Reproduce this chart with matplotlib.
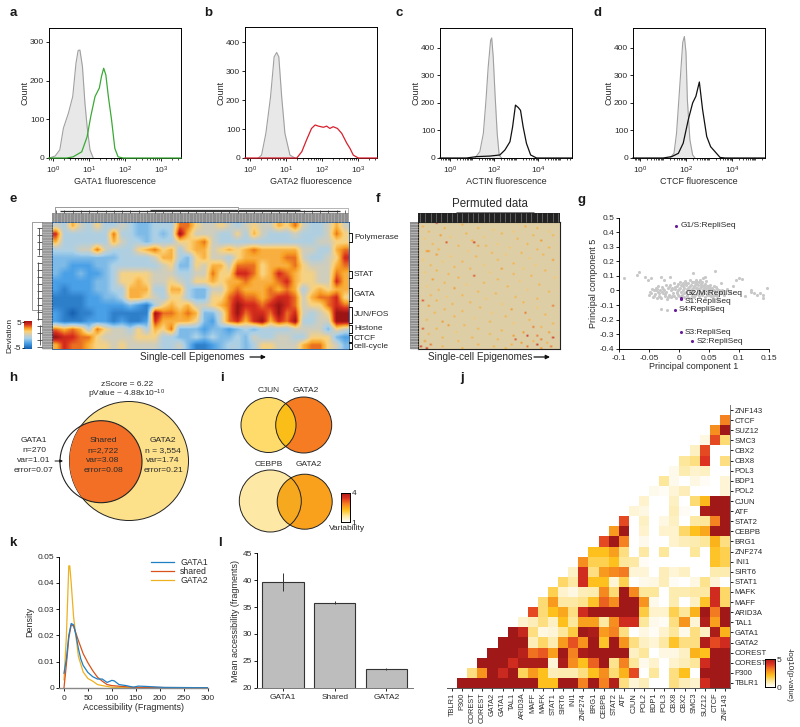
import numpy as np
import matplotlib
matplotlib.use('Agg')
import matplotlib.pyplot as plt
from matplotlib.colors import LinearSegmentedColormap
from matplotlib.patches import Circle, Rectangle
from matplotlib.ticker import FixedLocator, NullFormatter

plt.rcParams['font.family'] = ['Liberation Sans', 'DejaVu Sans']
plt.rcParams['mathtext.default'] = 'regular'
plt.rcParams['font.size'] = 6
plt.rcParams['text.color'] = '#2a2a2a'
plt.rcParams['axes.labelcolor'] = '#2a2a2a'
plt.rcParams['xtick.labelcolor'] = '#2a2a2a'
plt.rcParams['ytick.labelcolor'] = '#2a2a2a'
plt.rcParams['axes.linewidth'] = 0.7
plt.rcParams['xtick.major.width'] = 0.6
plt.rcParams['ytick.major.width'] = 0.6
plt.rcParams['xtick.minor.width'] = 0.5
plt.rcParams['xtick.major.size'] = 2.5
plt.rcParams['ytick.major.size'] = 2
plt.rcParams['xtick.minor.size'] = 1.5
plt.rcParams['xtick.major.pad'] = 2
plt.rcParams['ytick.major.pad'] = 1.5

# ---- flow cytometry histograms (log10 fluorescence, count)
a_iso_x = [-0.10, 0.06, 0.19, 0.29, 0.43, 0.55, 0.64, 0.70, 0.75, 0.82, 0.89, 0.95, 1.03, 1.12]
a_iso_y = [0, 5, 21, 77, 116, 159, 245, 278, 279, 236, 141, 81, 21, 0]
a_stain_x = [-0.11, 0.38, 0.56, 0.80, 0.95, 1.05, 1.17, 1.29, 1.35, 1.41, 1.47, 1.54, 1.63, 1.72, 1.81, 1.95, 3.56]
a_stain_y = [0, 0, 3, 16, 55, 107, 159, 181, 211, 232, 215, 159, 98, 25, 3, 0, 0]
b_iso_x = [0.23, 0.32, 0.44, 0.57, 0.67, 0.74, 0.80, 0.88, 0.97, 1.11, 1.25]
b_iso_y = [0, 10, 85, 211, 349, 364, 349, 211, 85, 10, 0]
b_stain_x = [-0.14, 1.30, 1.44, 1.57, 1.71, 1.81, 1.90, 2.04, 2.13, 2.22, 2.31, 2.43, 2.55, 2.69, 2.78, 2.87, 3.01, 3.53]
b_stain_y = [0, 0, 22, 62, 102, 114, 110, 106, 110, 102, 108, 102, 85, 51, 33, 10, 0, 0]
c_iso_x = [1.14, 1.36, 1.52, 1.64, 1.74, 1.85, 1.90, 1.97, 2.05, 2.15, 2.24, 2.35]
c_iso_y = [0, 23, 89, 210, 330, 427, 436, 366, 234, 89, 11, 0]
c_stain_x = [-0.45, 0.76, 1.21, 1.82, 2.27, 2.50, 2.73, 2.85, 2.98, 3.11, 3.21, 3.33, 3.48, 3.67, 3.94, 5.55]
c_stain_y = [0, 0, 5, 7, 11, 29, 59, 113, 192, 183, 173, 113, 53, 11, 0, 0]
d_iso_x = [1.30, 1.48, 1.59, 1.74, 1.86, 1.93, 2.00, 2.06, 2.17, 2.29, 2.39]
d_iso_y = [0, 17, 90, 273, 420, 441, 383, 212, 66, 11, 0]
d_stain_x = [-0.30, 1.01, 1.38, 1.67, 1.88, 2.10, 2.29, 2.43, 2.58, 2.72, 2.90, 3.07, 3.26, 3.48, 3.70, 5.43]
d_stain_y = [0, 0, 5, 17, 54, 139, 200, 224, 276, 176, 78, 41, 23, 2, 0, 0]

deviation_rows = [
    [0, -1, 2, 0, -1, 1, -1, -1, 0, -1, -2, -2, -1, -1, -1, 3, 3, 1, 0, 0, 1, 0, -1, 0, 1, 0, 0, 2, 1, 3, 0, -1, -1, 0, 2, 0],
    [4, -1, -1, -1, -1, -1, -1, 3, -1, -1, -2, -2, -1, -2, -1, 5, 2, 0, 0, 0, -1, -1, 1, -1, 2, 0, -1, -1, -1, 0, -1, -1, -1, 0, 3, 1],
    [2, -1, -1, -1, -1, -1, -1, 2, 0, -1, -1, -2, -1, -1, -1, 1, 1, 2, 3, 0, -1, -1, -1, -1, -1, -1, -1, -1, -1, -1, -1, -1, 0, 0, 1, 1],
    [-1, -1, -1, 0, 0, 3, 0, -1, -1, -1, 1, 2, 3, 1, 2, -1, 1, 2, 2, 0, 1, 2, 1, 2, 3, 2, 2, 2, 2, 2, 0, 0, -1, -1, 2, 3],
    [-2, -2, -2, -2, -2, -2, -2, -2, -1, -1, -1, -1, 0, 2, 2, -1, -2, 1, 2, 0, 0, -1, 1, 2, 2, 2, 2, 2, 3, 3, 0, -1, -1, 0, 1, 4],
    [-2, -2, -3, -3, -3, -2, -2, -1, -1, -1, -1, -1, -1, 0, 1, -2, -2, 1, 0, 2, 2, 0, 3, 3, 3, 1, 2, 2, 2, 3, 1, 0, 0, 0, 2, 3],
    [-2, -3, -3, -2, -3, -3, -2, -1, 1, 1, 1, 1, 0, 0, 0, -1, -1, 0, 0, 3, 1, 1, 4, 4, 3, 1, 2, 4, 3, 2, 1, 1, 0, 0, 3, 2],
    [-3, -3, -3, -3, -3, -2, -2, -1, 1, 1, 2, 1, 0, 0, 1, 0, -1, 1, 1, 2, 1, 2, 2, 3, 2, 2, 2, 3, 4, 2, 1, 1, 0, 0, 4, 2],
    [-3, -4, -3, -3, -3, -2, -2, -1, -1, 2, 2, 2, -1, -1, 2, 2, -1, -2, -2, 0, 0, 2, 3, 2, 2, 2, 3, 2, 3, 2, -1, 1, 2, 1, 2, 2],
    [-4, -4, -4, -4, -3, -3, -2, -2, -1, 2, 2, 1, 0, -1, 1, 1, -1, -2, -2, 1, 1, 3, 4, 3, 3, 2, 3, 4, 4, 3, 0, 2, 3, 3, 4, 1],
    [-4, -4, -4, -4, -3, -3, -3, -3, -3, -2, -3, -4, -1, 1, 2, 1, 2, 0, 0, 1, 2, 3, 5, 4, 4, 3, 4, 5, 4, 3, 0, 1, 1, 3, 4, 3],
    [-3, -4, -5, -4, -4, -3, -3, -4, -4, -4, -4, -4, 5, 3, 3, 2, 3, 2, -2, -2, 0, 3, 5, 3, 4, 4, 3, 5, 3, 4, 0, -1, 0, 1, 5, 5],
    [-3, -4, -4, -4, -3, -3, -3, -4, -3, -4, -4, -3, 4, 2, 2, 2, 2, 1, -2, -3, 0, 3, 4, 2, 4, 5, 2, 4, 3, 5, -1, -1, 0, 0, 5, 5],
    [3, 2, 3, 2, -1, 3, 1, 0, 0, -1, 1, -1, 2, 1, 3, -2, -2, -2, -3, -2, -2, -3, -2, -1, -2, -1, -1, -1, -1, 0, 0, 0, 0, -2, 1, 0],
    [5, 4, 4, 3, 3, 1, 0, 0, 0, 0, 1, 1, 1, -1, -1, -2, -2, -1, -2, -1, -2, -2, -1, -2, 0, -1, -1, 0, 0, -1, -1, 1, 1, 1, -2, -3],
    [2, 4, 3, 3, 2, 1, 1, 0, 1, 0, 0, 0, 0, -1, -1, 0, -2, -4, -4, -3, -2, -1, -1, -2, -1, 1, 1, 0, 0, 0, 2, 3, 3, 1, 0, -2],
]
tf_groups = ['Polymerase', 'STAT', 'GATA', 'JUN/FOS', 'Histone', 'CTCF', 'cell-cycle']

# ---- panel f, flecks on a 72x72 grid (row, col, deviation)
perm_flecks = [
    (0, 9, 4), (1, 22, 2), (2, 2, 2), (2, 54, 2), (3, 13, 2), (3, 30, 2), (3, 60, 2), (4, 38, 1.5), (5, 5, 2), (5, 48, 1.5), (5, 66, 1.5), (6, 24, 2),
    (6, 42, 2), (7, 11, 2.5), (7, 58, 2), (7, 68, 2), (8, 33, 1.5), (8, 16, 1.5), (9, 3, 1.5), (9, 50, 2), (10, 27, 2), (10, 62, 2.5), (11, 14, 3.5),
    (11, 28, 4), (12, 7, 2), (12, 40, 1.5), (12, 55, 2), (13, 20, 2), (13, 34, 2), (13, 30, 2.5), (14, 46, 1.5), (14, 66, 2), (15, 10, 2), (15, 60, 2),
    (16, 4, 2.5), (16, 5, 2.5), (16, 25, 1.5), (17, 37, 2), (17, 52, 2), (18, 9, 2.5), (18, 63, 2), (18, 44, 1.5), (19, 16, 1.5), (19, 29, 2), (20, 56, 1.5),
    (21, 2, 1.5), (21, 40, 2), (21, 68, 2.5), (22, 22, 2), (22, 12, 1.5), (23, 48, 2), (24, 33, 1.5), (24, 6, 2), (24, 59, 1.5), (25, 18, 2), (26, 26, 2),
    (26, 42, 2.5), (26, 53, 1.5), (27, 9, 2), (27, 64, 2), (28, 3, 1.5), (28, 36, 1.5), (29, 15, 2), (29, 48, 2), (30, 28, 3.5), (30, 57, 2), (31, 20, 2),
    (31, 69, 1.5), (32, 7, 2.5), (32, 40, 2), (33, 51, 1.5), (34, 13, 2), (34, 33, 2), (35, 61, 2), (35, 24, 1.5), (36, 4, 1.5), (36, 45, 2), (37, 18, 2.5),
    (38, 55, 1.5), (38, 10, 2), (39, 30, 2), (39, 66, 2), (40, 39, 2), (41, 6, 2), (41, 22, 2), (42, 49, 2), (42, 14, 1.5), (43, 60, 2), (43, 34, 1.5),
    (44, 2, 3.5), (44, 9, 2), (45, 26, 2), (45, 53, 2), (46, 17, 2), (46, 42, 1.5), (47, 68, 3), (47, 5, 2.5), (48, 31, 2), (48, 60, 1.5), (49, 13, 2),
    (49, 47, 2.5), (50, 22, 2), (51, 37, 1.5), (51, 54, 3), (51, 8, 2), (52, 64, 2), (53, 18, 2), (53, 44, 2), (54, 28, 1.5), (55, 4, 2), (55, 56, 2),
    (56, 12, 2.5), (56, 36, 2), (57, 68, 2), (57, 48, 1.5), (58, 15, 2.5), (58, 23, 2), (59, 58, 3), (59, 62, 2), (60, 2, 3.5), (60, 30, 2), (60, 9, 2),
    (61, 42, 2), (62, 66, 2.5), (62, 19, 1.5), (62, 53, 2.5), (63, 5, 2), (63, 36, 2), (64, 48, 2.5), (64, 55, 4), (64, 60, 3), (65, 12, 2), (65, 27, 2),
    (65, 68, 4), (66, 49, 3.5), (66, 62, 3), (66, 40, 2), (67, 3, 2.5), (67, 20, 2), (67, 58, 2), (68, 52, 2.5), (68, 65, 2), (69, 6, 3), (69, 30, 2),
    (69, 60, 4), (69, 47, 2), (70, 1, 4), (70, 12, 2), (70, 38, 2), (70, 55, 3), (70, 67, 3), (71, 4, 4), (71, 22, 2), (71, 44, 2), (71, 62, 2.5),
]

# ---- panel g, principal components
pc_points = [
    (-0.092, 0.085), (-0.07, 0.105), (-0.066, 0.125), (-0.057, 0.09), (-0.052, 0.075), (-0.047, 0.085), (-0.03, 0.09), (-0.025, 0.07),
    (-0.015, 0.095), (-0.035, 0.03), (0.023, 0.12), (0.044, 0.09), (0.06, 0.135), (0.04, 0.085), (0.045, 0.065), (0.035, 0.07), (0.105, 0.08),
    (0.1, 0.085), (0.095, 0.075), (0.09, 0.03), (0.12, -0.01), (0.12, 0.005), (0.125, -0.02), (0.13, -0.03), (0.135, -0.02), (0.14, -0.03),
    (0.14, -0.05), (0.146, 0.015), (0.11, -0.035), (0.085, -0.01), (0.08, 0.01), (0.075, -0.03), (-0.03, -0.13), (-0.02, -0.135), (0.02, -0.12),
    (0.035, -0.12), (0.055, -0.125), (0.07, 0.05), (0.065, -0.065), (-0.05, -0.03), (-0.048, -0.01), (-0.045, 0.01), (-0.044, -0.045), (-0.042, 0.0),
    (-0.04, -0.025), (-0.038, 0.02), (-0.037, -0.05), (-0.035, -0.01), (-0.033, -0.035), (-0.031, 0.005), (-0.03, -0.055), (-0.028, 0.025),
    (-0.027, -0.02), (-0.025, 0.0), (-0.024, -0.04), (-0.022, 0.035), (-0.021, -0.01), (-0.02, -0.06), (-0.018, 0.015), (-0.017, -0.03),
    (-0.015, 0.04), (-0.014, 0.0), (-0.013, -0.045), (-0.012, 0.02), (-0.01, -0.015), (-0.009, 0.05), (-0.008, -0.035), (-0.006, 0.01),
    (-0.005, -0.055), (-0.004, 0.03), (-0.003, -0.02), (-0.002, 0.045), (-0.001, 0.0), (0.0, -0.04), (0.001, 0.02), (0.002, 0.055), (0.003, -0.012),
    (0.004, 0.035), (0.005, -0.03), (0.006, 0.005), (0.007, 0.05), (0.008, -0.045), (0.009, 0.02), (0.01, 0.065), (0.011, -0.01), (0.012, 0.035),
    (0.013, -0.03), (0.014, 0.008), (0.015, 0.05), (0.016, -0.05), (0.017, 0.025), (0.018, 0.07), (0.019, -0.015), (0.02, 0.04), (0.021, -0.035),
    (0.022, 0.01), (0.023, 0.055), (0.024, -0.005), (0.025, 0.028), (0.026, 0.06), (0.027, -0.03), (0.028, 0.015), (0.029, 0.045), (0.03, -0.015),
    (0.031, 0.005), (0.032, 0.035), (0.033, 0.055), (0.034, -0.04), (0.035, 0.02), (0.036, 0.045), (0.037, -0.01), (0.038, 0.03), (0.039, -0.03),
    (0.04, 0.01), (0.041, 0.04), (0.042, -0.02), (0.043, 0.02), (0.044, -0.045), (0.045, 0.005), (0.046, 0.03), (0.047, -0.015), (0.048, 0.015),
    (0.05, -0.03), (0.051, 0.035), (0.052, 0.0), (0.054, -0.02), (0.055, 0.02), (0.056, -0.04), (0.058, 0.005), (0.06, -0.015), (0.062, 0.025),
    (0.064, -0.035), (0.066, 0.0), (0.068, -0.01), (-0.002, -0.03), (0.006, 0.03), (-0.012, 0.01), (0.015, 0.015), (0.03, 0.02), (0.022, -0.02),
    (-0.046, -0.02), (-0.041, -0.04), (-0.039, 0.005), (-0.036, 0.012), (-0.034, -0.02), (-0.032, -0.045), (-0.029, -0.012), (-0.026, 0.012),
    (-0.023, -0.025), (-0.019, -0.045), (-0.016, 0.022), (-0.011, -0.035), (-0.007, 0.022), (-0.004, -0.01), (0.0, 0.01), (0.003, -0.045),
    (0.006, 0.042), (0.009, -0.02), (0.012, 0.052), (0.014, -0.04), (0.016, 0.005), (0.018, 0.03), (0.02, -0.005), (0.021, 0.06), (0.023, 0.02),
    (0.025, -0.045), (0.027, 0.04), (0.028, 0.07), (0.03, 0.055), (0.032, -0.025), (0.033, 0.012), (0.036, 0.03), (0.036, -0.02), (0.038, 0.06),
    (0.04, -0.005), (0.042, 0.03), (0.044, 0.045), (0.046, -0.03), (0.048, 0.03), (0.05, 0.0), (0.052, 0.02), (0.053, -0.035), (0.056, 0.0),
    (0.058, 0.03), (0.06, -0.03), (0.063, 0.01), (0.066, -0.02), (0.07, -0.02), (0.072, 0.0),
]
pc_labels = ['G1/S:RepliSeq', 'G2/M:RepliSeq', 'S1:RepliSeq', 'S4:RepliSeq', 'S3:RepliSeq', 'S2:RepliSeq']
pc_label_x = [-0.005, 0.004, 0.003, -0.007, 0.003, 0.022]
pc_label_y = [0.445, -0.05, -0.06, -0.133, -0.287, -0.348]
pc_label_dy = [0, 3, -2, 0, 0, 0]

# ---- panel j
tf_names = ['TBLR1', 'P300', 'COREST', 'COREST', 'GATA2', 'GATA1', 'TAL1', 'ARID3A', 'MAFF', 'MAFK', 'STAT1', 'SIRT6', 'INI1', 'ZNF274',
            'BRG1', 'CEBPB', 'STAT2', 'ATF', 'CJUN', 'POL2', 'BDP1', 'POL3', 'CBX8', 'CBX2', 'SMC3', 'SUZ12', 'CTCF', 'ZNF143']
pvalue_rows = [
    [5, 5, 5, 5, 5, 5, 5, 5, 2, 2, 5, 5, 3, 5, 3, 4.7, 1.2, .4, .7, 0, 0, 1.2, .7, .5, 4.2, 5, 5],
    [1.2, 2.7, 5, 4.3, 5, 1.5, 2.6, 2, .7, .8, .8, 1.2, 2, 2.8, 1.3, 2.2, 3.7, 0, 1, 0, 1.2, 2, 0, 5, 5, 5],
    [5, 5, 5, 4.2, 4.8, 4.8, 4.8, .4, 4.8, 2.8, 2, 3.4, 5, 1.1, 3, 1, .2, .5, 0, .5, .7, 1, 4.2, 5, 5],
    [5, 5, 5, 4.6, 3.2, 3.5, 2.5, 5, 3, 4.8, 5, 5, 5, 5, .6, 1, 0, .3, .3, .6, 2.2, 2, 5, 5],
    [5, 5, 5, .7, 1.4, .8, 2.6, 3.6, 2.7, 5, 1.9, 5, 2.7, 1.2, .6, .4, .9, 1.9, 1.2, 1.2, 4.7, 3.7, 4.2],
    [5, 4.4, 1.2, .3, .4, 1, 1.7, 5, 4.8, 2.6, 3, 1.2, 0, .3, .1, .5, 1, .2, 1.2, .6, 4.8, 2.2],
    [.5, .7, 1.2, .6, 2, 1, 2.5, 2.5, .9, 2.8, 4.2, 4.2, 1, .2, .1, 1.2, 2.7, .4, 4.7, 2.5, 5],
    [3.7, 1.3, 2, 2.4, 1.2, 4.2, 5, 5, 5, 5, 5, 1.7, .5, .5, 1.6, 1, 2.2, 5, 3.1, 5],
    [1.3, 2.6, .9, .9, 1.1, 1.9, 3.4, 2.8, 5, 5, 2.7, .2, 0, .8, 0, .6, 1.9, 4.2, 1.4],
    [1.6, .5, .3, .7, .8, 2.9, 1.3, 5, 2.9, 1, 1, 0, .8, .8, .9, .9, 4.2, 1.4],
    [1.4, .9, 4.2, 2, 2, .4, 1.6, 0, .2, .3, .7, .1, 0, .3, 1.1, .4, 0],
    [.6, 4.2, 1.2, 2.6, 2.9, 3.1, .4, .4, 0, .7, .4, .6, 0, 0, .8, .8],
    [2.8, 1.6, 1.6, 2, 1, .9, .1, 0, 0, 0, 0, 0, 0, 1.9, 1.6],
    [2, 2, 2.5, 1.2, 0, .9, 0, 1, 0, 0, 1, 0, 1.9, 1.6],
    [3.7, 5, 3, 0, .2, 0, 0, .5, .7, .8, 1, 2.2, 1.2],
    [2.6, 5, 0, .5, 0, .5, .5, 1.4, 2, 2.4, 5, 5],
    [3.7, 0, .6, 0, .3, .6, 0, .9, 1, 3, 5],
    [.4, .3, 0, 0, .7, .1, 0, 4.8, 5, 5],
    [.5, 0, 0, .6, 0, 1.3, 2.1, 5, 5],
    [.2, .1, .4, .7, 0, 0, 0, .4],
    [1, .2, 0, .3, .1, 0, .4],
    [.2, .8, .5, .6, 0, 0],
    [1, 1.2, 4, 0, 1.2],
    [.6, 3.7, 0, 0],
    [.3, 3.7, 1.3],
    [2.8, 5],
    [3],
]

# ---- panel k, density curves
k_gata1_x = [0, 5, 10, 15, 20, 25, 30, 35, 40, 50, 60, 70, 80, 90, 100, 105, 115, 130, 145, 155, 170, 190, 210, 300]
k_gata1_y = [.0055, .011, .02, .0245, .024, .02, .015, .011, .0085, .0058, .0042, .0033, .0033, .002, .0028, .0026, .0012, .0008, .0002, .0006, .0005, .0003, .0001, 0]
k_shared_x = [0, 5, 10, 15, 20, 30, 40, 50, 60, 70, 80, 90, 100, 120, 150, 300]
k_shared_y = [0, .009, .019, .024, .0235, .018, .013, .0095, .0065, .004, .0025, .0012, .0008, .0005, .0001, 0]
k_gata2_x = [0, 5, 10, 12, 15, 20, 30, 40, 50, 60, 70, 80, 100, 130, 300]
k_gata2_y = [.003, .02, .0465, .0465, .04, .027, .012, .006, .0035, .0025, .0012, .0008, .0002, 0, 0]

# ---- panel l
l_names = ['GATA1', 'Shared', 'GATA2']
l_means = [39.7, 35.8, 23.5]
l_errors = [1.7, 0.3, 0.2]

W, H = 800, 727
LABEL_SIZE = 6.5
fig = plt.figure(figsize=(W / 100, H / 100), dpi=100)


def px_axes(left, top, right, bottom):
    return fig.add_axes([left / W, 1 - bottom / H, (right - left) / W, (bottom - top) / H])


dev_cmap = LinearSegmentedColormap.from_list('dev', [(0, '#1560b0'), (0.2, '#4aa0e6'), (0.38, '#a9d0e8'), (0.5, '#cfcdbd'), (0.62, '#fbd27a'),
                                                     (0.74, '#f7a024'), (0.88, '#d9301e'), (1, '#9c1414')])
heat_cmap = LinearSegmentedColormap.from_list('heat', [(0, '#ffffff'), (0.2, '#fde79a'), (0.4, '#fdc01c'), (0.6, '#f58220'), (0.8, '#dd3222'), (1, '#a01818')])


def cyto_panel(box, iso_x, iso_y, stain_x, stain_y, color, xlim, ymax, yticks, xmajor, xlabel):
    ax = px_axes(*box)
    ix = 10.0 ** np.array(iso_x)
    ax.fill_between(ix, iso_y, color='#e8e8e8', lw=0)
    ax.plot(ix, iso_y, color='#a0a0a0', lw=0.8)
    ax.plot(10.0 ** np.array(stain_x), stain_y, color=color, lw=0.9, clip_on=False, zorder=3)
    ax.set_xscale('log')
    ax.set_xlim(10.0 ** xlim[0], 10.0 ** xlim[1])
    ax.set_ylim(0, ymax)
    ax.set_yticks(yticks)
    ax.set_xticks([10.0 ** e for e in xmajor])
    minor = [m * 10.0 ** e for e in range(-1, 6) for m in range(1, 10)]
    minor = [m for m in minor if 10.0 ** xlim[0] <= m <= 10.0 ** xlim[1]]
    ax.xaxis.set_minor_locator(FixedLocator(minor))
    ax.xaxis.set_minor_formatter(NullFormatter())
    ax.set_xlabel(xlabel, fontsize=LABEL_SIZE, labelpad=1)
    ax.set_ylabel('Count', fontsize=LABEL_SIZE, labelpad=0.5)
    return ax


cyto_panel((49, 28, 181, 158), a_iso_x, a_iso_y, a_stain_x, a_stain_y, '#3aaa35', (-0.11, 3.56), 336, [0, 100, 200, 300], [0, 1, 2, 3], 'GATA1 fluorescence')
cyto_panel((245, 27, 377, 158), b_iso_x, b_iso_y, b_stain_x, b_stain_y, '#d8202c', (-0.14, 3.53), 452, [0, 100, 200, 300, 400], [0, 1, 2, 3], 'GATA2 fluorescence')
cyto_panel((440, 28, 572, 158), c_iso_x, c_iso_y, c_stain_x, c_stain_y, '#111111', (-0.45, 5.55), 472, [0, 100, 200, 300, 400], [0, 2, 4], 'ACTIN fluorescence')
cyto_panel((633, 28, 765, 158), d_iso_x, d_iso_y, d_stain_x, d_stain_y, '#111111', (-0.30, 5.43), 472, [0, 100, 200, 300, 400], [0, 2, 4], 'CTCF fluorescence')

# e heatmap
ax_e = px_axes(52, 222, 349, 349)
ax_e.imshow(np.array(deviation_rows), cmap=dev_cmap, vmin=-5, vmax=5, aspect='auto', interpolation='bilinear')
ax_e.set_xticks([])
ax_e.set_yticks([])
for s in ax_e.spines.values():
    s.set_color('#1b4f8a')
    s.set_linewidth(0.6)

ax_ec = px_axes(24, 321, 32, 349)
ax_ec.imshow(np.linspace(5, -5, 64)[:, None], cmap=dev_cmap, vmin=-5, vmax=5, aspect='auto', extent=(0, 1, -5.4, 5.4))
ax_ec.set_xticks([])
ax_ec.yaxis.tick_left()
ax_ec.set_yticks([-5, 5])
ax_ec.set_yticklabels(['-5', '5'])
ax_ec.tick_params(axis='y', length=1.5, pad=0.5)
for s in ax_ec.spines.values():
    s.set_visible(False)

# f heatmap
perm = np.full((72, 72), 0.4)
for r, c, v in perm_flecks:
    perm[r, c] = v
ax_f = px_axes(418, 222, 560, 349)
ax_f.imshow(perm, cmap=dev_cmap, vmin=-5, vmax=5, aspect='auto', interpolation='bilinear')
ax_f.set_xticks([])
ax_f.set_yticks([])
for s in ax_f.spines.values():
    s.set_linewidth(0.8)
    s.set_color('#222222')

# g scatter
ax_g = px_axes(619, 217.7, 769, 348.7)
pts = np.array(pc_points)
ax_g.scatter(pts[:, 0], pts[:, 1], s=5, color='#c8c8c8', lw=0, clip_on=False)
ax_g.scatter(pc_label_x, pc_label_y, s=5, color='#6a1b9a', lw=0, zorder=3)
for name, x, y, dy in zip(pc_labels, pc_label_x, pc_label_y, pc_label_dy):
    ax_g.annotate(name, (x, y), xytext=(3, dy), textcoords='offset points', va='center', fontsize=6)
ax_g.set_xlim(-0.1, 0.15)
ax_g.set_ylim(-0.4, 0.5)
ax_g.set_xticks([-0.1, -0.05, 0, 0.05, 0.1, 0.15])
ax_g.set_xticklabels(['-0.1', '-0.05', '0', '0.05', '0.1', '0.15'])
ax_g.set_yticks(np.arange(-0.4, 0.51, 0.1))
ax_g.set_yticklabels(['-0.4', '-0.3', '-0.2', '-0.1', '0', '0.1', '0.2', '0.3', '0.4', '0.5'])
ax_g.spines[['top', 'right']].set_visible(False)
ax_g.patch.set_alpha(0)
ax_g.set_xlabel('Principal component 1', fontsize=LABEL_SIZE, labelpad=0)
ax_g.set_ylabel('Principal component 5', fontsize=LABEL_SIZE, labelpad=1)

# j triangular heatmap
n = len(tf_names)
pmat = np.full((n, n), np.nan)
for r, row in enumerate(pvalue_rows):
    pmat[r, r + 1:r + 1 + len(row)] = row
ax_j = px_axes(447, 405, 730, 688)
ax_j.imshow(np.ma.masked_invalid(pmat), cmap=heat_cmap, vmin=0, vmax=5, origin='lower', aspect='auto', interpolation='nearest')
ax_j.set_xticks(range(n))
ax_j.set_xticklabels(tf_names, rotation=90, fontsize=5.3)
ax_j.set_yticks(range(n))
ax_j.set_yticklabels(tf_names, fontsize=5.6)
ax_j.yaxis.tick_right()
ax_j.spines[['top', 'left']].set_visible(False)
ax_j.spines['right'].set_color('#777777')
ax_j.spines['bottom'].set_color('#555555')
ax_j.tick_params(axis='both', length=2, pad=1.5)

ax_jc = px_axes(765, 659, 775, 687)
ax_jc.imshow(np.linspace(5, 0, 64)[:, None], cmap=heat_cmap, vmin=0, vmax=5, aspect='auto', extent=(0, 1, 0, 5))
ax_jc.set_xticks([])
ax_jc.yaxis.tick_right()
ax_jc.set_yticks([0, 5])
ax_jc.tick_params(axis='y', length=0, pad=1)

# k density
ax_k = px_axes(59, 556.7, 208, 687.7)
ax_k.plot(k_gata2_x, k_gata2_y, color='#edb120', lw=0.9, label='GATA2')
ax_k.plot(k_shared_x, k_shared_y, color='#d95319', lw=0.9, label='shared')
ax_k.plot(k_gata1_x, k_gata1_y, color='#1f7fc4', lw=0.9, label='GATA1')
ax_k.set_xlim(-10.5, 301)
ax_k.set_ylim(0, 0.05)
ax_k.set_xticks(range(0, 301, 50))
ax_k.set_yticks([0, 0.01, 0.02, 0.03, 0.04, 0.05])
ax_k.set_yticklabels(['0', '0.01', '0.02', '0.03', '0.04', '0.05'])
ax_k.spines[['top', 'right']].set_visible(False)
ax_k.spines['bottom'].set_color('#888888')
ax_k.spines['bottom'].set_linewidth(1.0)
ax_k.tick_params(axis='x', pad=3)
ax_k.set_xlabel('Accessibility (Fragments)', fontsize=LABEL_SIZE, labelpad=0.5)
ax_k.set_ylabel('Density', fontsize=LABEL_SIZE, labelpad=2)
handles, labels = ax_k.get_legend_handles_labels()
ax_k.legend(handles[::-1], labels[::-1], loc='upper left', bbox_to_anchor=(0.62, 0.99), frameon=False, fontsize=6.3,
            handlelength=2.6, labelspacing=0.02, handletextpad=0.7, borderpad=0, borderaxespad=0)

# l bars
ax_l = px_axes(256.7, 553.3, 412.7, 687.7)
ax_l.bar(range(3), l_means, width=0.8, color='#bdbdbd', edgecolor='#333333', lw=0.8,
         yerr=l_errors, error_kw=dict(ecolor='#333333', elinewidth=0.7, capsize=0))
ax_l.set_xlim(-0.51, 2.507)
ax_l.set_ylim(20, 45)
ax_l.set_xticks(range(3))
ax_l.set_xticklabels(l_names)
ax_l.set_yticks(range(20, 46, 5))
ax_l.spines[['top', 'right']].set_visible(False)
ax_l.spines['bottom'].set_color('#777777')
ax_l.set_ylabel('Mean accessibility (fragments)', fontsize=LABEL_SIZE, labelpad=2)

# everything drawn in pixel positions: letters, Venn, dendrograms, brackets
ov = fig.add_axes([0, 0, 1, 1], zorder=20)
ov.set_xlim(0, W)
ov.set_ylim(H, 0)
ov.axis('off')

for letter, x, y in [('a', 13, 13), ('b', 208, 13), ('c', 399, 13), ('d', 597, 13), ('e', 13, 199), ('f', 378, 199), ('g', 582, 200),
                     ('h', 13, 378), ('i', 222, 378), ('j', 462, 378), ('k', 13, 543), ('l', 220, 543)]:
    ov.text(x, y, letter, fontsize=9.5, fontweight='bold', ha='center', va='center', color='#1a1a1a')

# e dendrograms and strips
ov.add_patch(Rectangle((52, 213), 297, 9, fc='#8f8f8f', ec='none'))
ov.add_patch(Rectangle((42, 222), 10, 127, fc='#9a9a9a', ec='none'))
ov.vlines(np.arange(54, 349, 3.3), 213, 222, color='#b8b8b8', lw=0.4)
ov.hlines(np.arange(224, 349, 2.6), 42, 52, color='#c4c4c4', lw=0.4)
ov.hlines([211, 209.5], [60, 150], [340, 300], color='#333333', lw=0.9)
ov.vlines(np.arange(56, 349, 8.25), 209.5, 213, color='#333333', lw=0.5)
ov.plot([55, 55, 238, 238], [212, 206.5, 206.5, 210], color='#999999', lw=0.7)
ov.plot([238, 238, 348, 348], [208, 207.5, 207.5, 212], color='#aaaaaa', lw=0.6)
ov.plot([42, 32, 32, 42], [222, 222, 310, 310], color='#777777', lw=0.5)
ov.hlines(np.arange(228, 349, 7), 37, 42, color='#444444', lw=0.6)
ov.vlines([39, 37.5, 40], [228, 262, 325], [255, 320, 345], color='#444444', lw=0.6)

for name, top, bot in zip(tf_groups, [233, 271, 288, 307, 325, 335, 343], [242, 278, 301, 323, 333, 342, 349]):
    ov.plot([349, 352, 352, 349], [top, top, bot, bot], color='#111111', lw=0.7)
    ov.text(354, (top + bot) / 2, name, fontsize=6, va='center')

ov.text(10, 335, 'Deviation', rotation=90, fontsize=6, ha='center', va='center')
ov.text(192, 356.5, 'Single-cell Epigenomes', fontsize=7.2, ha='center', va='center')
ov.annotate('', xy=(266, 357), xytext=(250, 357), arrowprops=dict(arrowstyle='-|>', lw=0.9, color='#111111', mutation_scale=6, shrinkA=0, shrinkB=0))
ov.text(532, 356.5, 'Single-cell Epigenomes', fontsize=7.2, ha='right', va='center')
ov.annotate('', xy=(550, 357), xytext=(534, 357), arrowprops=dict(arrowstyle='-|>', lw=0.9, color='#111111', mutation_scale=6, shrinkA=0, shrinkB=0))

# f strips
ov.text(490, 204, 'Permuted data', fontsize=8.3, ha='center', va='center')
ov.add_patch(Rectangle((418, 213), 142, 9, fc='#222222', ec='none'))
ov.vlines(np.arange(420, 560, 5.3), 213, 222, color='#777777', lw=0.5)
ov.add_patch(Rectangle((410, 222), 8, 127, fc='#8f8f8f', ec='none'))
ov.hlines(np.arange(224, 349, 2.6), 410, 418, color='#d0d0d0', lw=0.4)
ov.hlines(212, 456, 534, color='#444444', lw=0.5)

# h Venn
ov.add_patch(Circle((129, 461), 59.5, fc='#fde08a', ec='none'))
ov.add_patch(Circle((101, 461.7), 41, fc='white', ec='none'))
ov.add_patch(Circle((129, 461), 59.5, fc='none', ec='#222222', lw=0.7))
shared = Circle((101, 461.7), 41, fc='#f26f25', ec='none')
ov.add_patch(shared)
shared.set_clip_path(Circle((129, 461), 59.5, transform=ov.transData))
ov.add_patch(Circle((101, 461.7), 41, fc='none', ec='#222222', lw=0.8))
ov.text(127, 384, 'zScore = 6.22', fontsize=6, ha='center', va='center')
ov.text(127, 394.5, 'pValue ~ 4.88x10$^{-10}$', fontsize=6, ha='center', va='center')
for x, lines in [(34, ['GATA1', 'n=270', 'var=1.01', 'error=0.07']), (103, ['Shared', 'n=2,722', 'var=3.08', 'error=0.08']),
                 (163, ['GATA2', 'n = 3,554', 'var=1.74', 'error=0.21'])]:
    for k, line in enumerate(lines):
        ov.text(x, 440.7 + 10 * k, line, fontsize=6.1, ha='center', va='center')
ov.annotate('', xy=(63, 461), xytext=(55, 461), arrowprops=dict(arrowstyle='-|>', lw=0.7, color='#111111', mutation_scale=4, shrinkA=0, shrinkB=0))


# i Venn pairs
def venn_pair(c1, r1, col1, c2, r2, col2, col_mid):
    ov.add_patch(Circle(c1, r1, fc=col1, ec='none'))
    ov.add_patch(Circle(c2, r2, fc=col2, ec='none'))
    mid = Circle(c1, r1, fc=col_mid, ec='none')
    ov.add_patch(mid)
    mid.set_clip_path(Circle(c2, r2, transform=ov.transData))
    ov.add_patch(Circle(c1, r1, fc='none', ec='#222222', lw=0.7))
    ov.add_patch(Circle(c2, r2, fc='none', ec='#222222', lw=0.7))


venn_pair((268.5, 425), 27.5, '#fedb6a', (303.7, 425), 28, '#f57c22', '#fbbd17')
venn_pair((270.3, 501), 31, '#fee8a5', (304.7, 501.7), 27.5, '#f9a01c', '#f6a81f')
ov.text(268.7, 391, 'CJUN', fontsize=6, ha='center', va='center')
ov.text(306, 391, 'GATA2', fontsize=6, ha='center', va='center')
ov.text(268.7, 465, 'CEBPB', fontsize=6, ha='center', va='center')
ov.text(309, 465, 'GATA2', fontsize=6, ha='center', va='center')
ov.text(347, 529, 'Variability', fontsize=6, ha='center', va='center')
ov.text(789, 675, '-log10(p-value)', rotation=270, fontsize=5.8, ha='center', va='center')

ax_ic = px_axes(341, 492.7, 350, 522.3)
ax_ic.imshow(np.linspace(5, 0, 64)[:, None], cmap=heat_cmap, vmin=0, vmax=5, aspect='auto', extent=(0, 1, 1, 4))
ax_ic.set_xticks([])
ax_ic.yaxis.tick_right()
ax_ic.set_yticks([1, 4])
ax_ic.tick_params(axis='y', length=0, pad=1.2)

fig.savefig('out.png', dpi=100)
